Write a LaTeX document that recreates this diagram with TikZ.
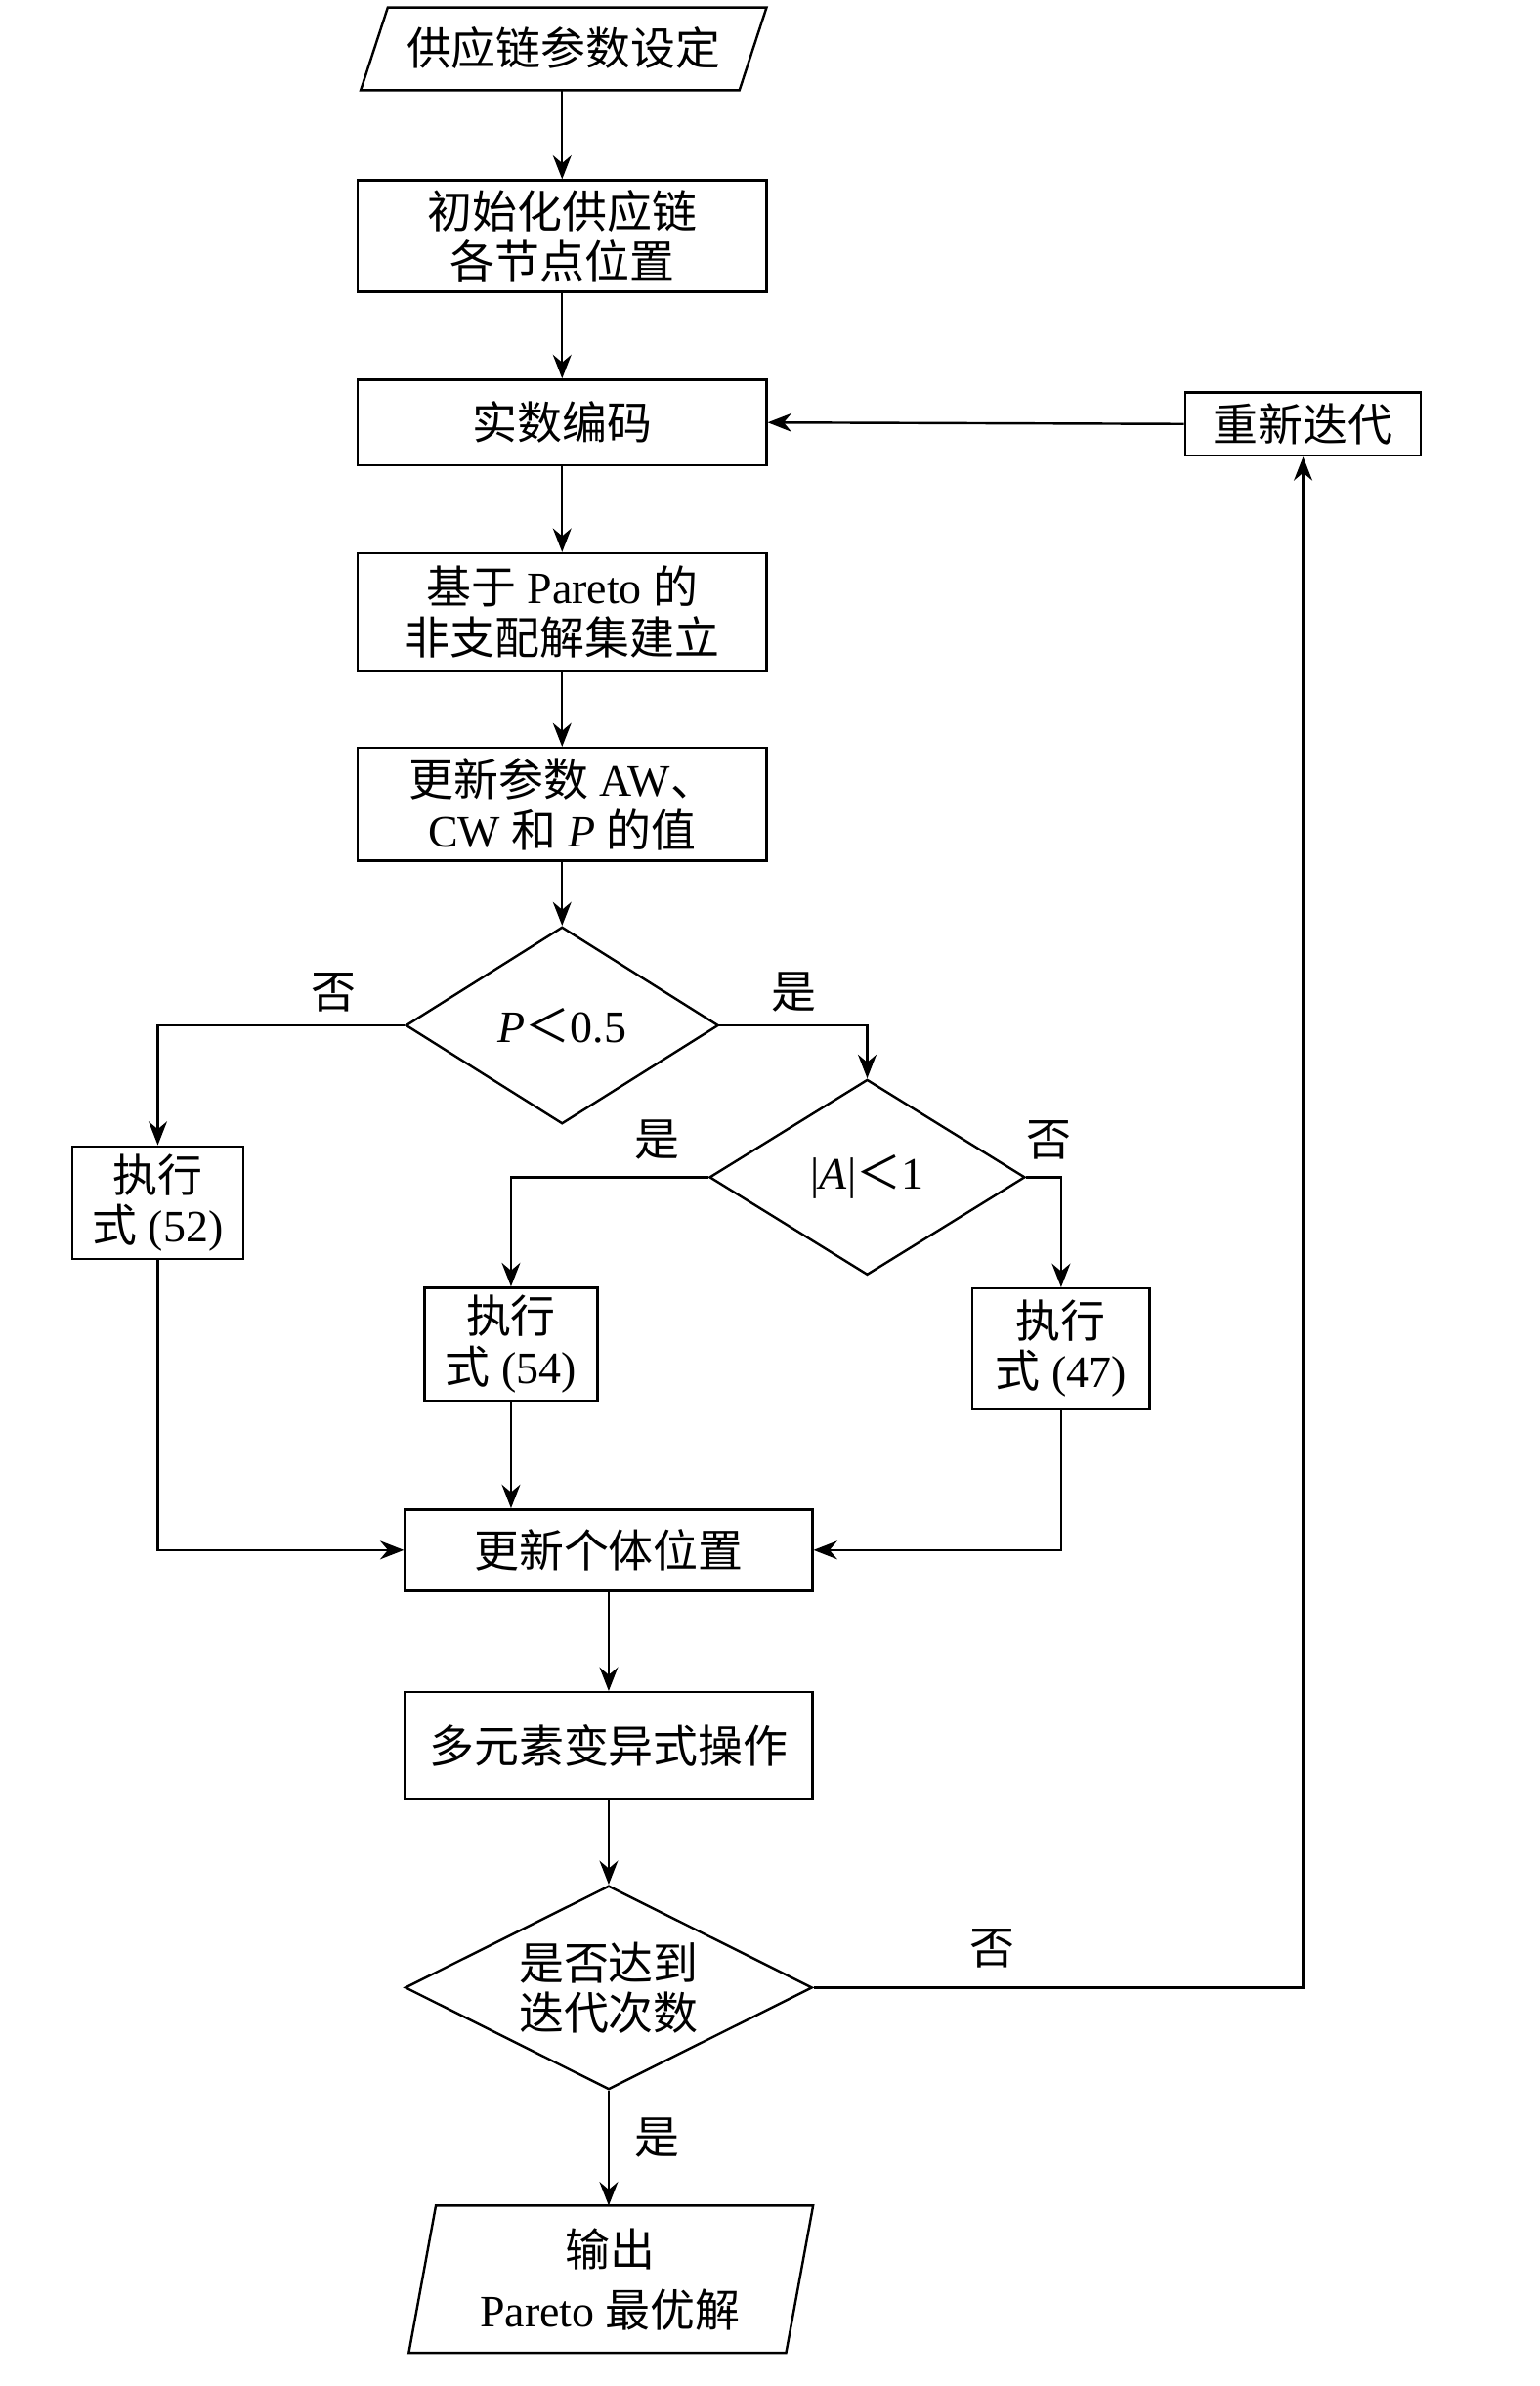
\documentclass[tikz,border=0pt]{standalone}
\usepackage{fontspec}
\setmainfont{Liberation Serif}
\newfontfamily\cjk{Noto Sans CJK SC}
\usetikzlibrary{arrows.meta,shapes.geometric}
\tikzset{
 every node/.style={font=\fontsize{17}{21}\selectfont, align=center},
 boxn/.style={draw, line width=0.9pt, minimum height=#1, inner sep=2pt},
 boxn/.default=1.5cm,
 dia/.style={draw, line width=0.9pt, diamond, aspect=1.6, inner sep=0pt},
 lbl/.style={font=\fontsize{17}{21}\selectfont\cjk},
 ar/.style={line width=0.9pt, -{Stealth[length=9pt,width=7pt]}},
 ln/.style={line width=0.9pt}
}
\begin{document}
\begin{tikzpicture}[x=0.02cm,y=-0.02cm]
\useasboundingbox (0,0) rectangle (1024,1587);
% top parallelogram
\draw[ln] (258,5) -- (510,5) -- (492,60) -- (240,60) -- cycle;
\node (p1) at (375,32) {\cjk 供应链参数设定};
\node[boxn, minimum width=5.44cm, minimum height=1.48cm] (b2) at (374,157) {\cjk 初始化供应链\\[-2pt]\cjk 各节点位置};
\node[boxn, minimum width=5.44cm, minimum height=1.14cm] (b3) at (374,281) {\cjk 实数编码};
\node[boxn, minimum width=5.44cm, minimum height=1.56cm] (b4) at (374,407) {{\cjk 基于} Pareto {\cjk 的}\\[-2pt]\cjk 非支配解集建立};
\node[boxn, minimum width=5.44cm, minimum height=1.5cm] (b5) at (374,535) {{\cjk 更新参数} AW{\cjk 、}\\[-2pt]CW {\cjk 和} \textit{P} {\cjk 的值}};
\node[dia, minimum width=4.16cm, minimum height=2.62cm] (d1) at (374,682) {\textit{P}{\cjk ＜}0.5};
\node[boxn, minimum width=2.28cm, minimum height=1.5cm] (b52) at (105,800) {\cjk 执行\\[-2pt]{\cjk 式} (52)};
\node[dia, minimum width=4.2cm, minimum height=2.6cm] (d2) at (577,783) {|\textit{A}|{\cjk ＜}1};
\node[boxn, minimum width=2.3cm, minimum height=1.5cm] (b54) at (340,894) {\cjk 执行\\[-2pt]{\cjk 式} (54)};
\node[boxn, minimum width=2.36cm, minimum height=1.6cm] (b47) at (706,897) {\cjk 执行\\[-2pt]{\cjk 式} (47)};
\node[boxn, minimum width=5.42cm, minimum height=1.08cm] (u) at (405,1031) {\cjk 更新个体位置};
\node[boxn, minimum width=5.42cm, minimum height=1.42cm] (m) at (405,1161) {\cjk 多元素变异式操作};
\node[dia, minimum width=5.42cm, minimum height=2.6cm] (d3) at (405,1322) {\cjk 是否达到\\[-2pt]\cjk 迭代次数};
\draw[ln] (290,1467) -- (541,1467) -- (523,1565) -- (272,1565) -- cycle;
\node (out) at (406,1516) {\cjk 输出\\[2pt]Pareto {\cjk 最优解}};
\node[boxn, minimum width=3.14cm, minimum height=0.84cm] (r) at (867,282) {\cjk 重新迭代};
% connectors
\draw[ar] (374,60) -- (b2.north);
\draw[ar] (b2) -- (b3);
\draw[ar] (b3) -- (b4);
\draw[ar] (b4) -- (b5);
\draw[ar] (b5) -- (d1);
\draw[ar] (d1.west) -| (b52.north);
\draw[ar] (d1.east) -| (d2.north);
\draw[ar] (d2.west) -| (b54.north);
\draw[ar] (d2.east) -| (b47.north);
\draw[ar] (b52.south) |- (u.west);
\draw[ar] (b54.south) -- (b54.south |- u.north);
\draw[ar] (b47.south) |- (u.east);
\draw[ar] (u) -- (m);
\draw[ar] (m) -- (d3);
\draw[ar] (d3.south) -- (405,1467);
\draw[ar] (d3.east) -| (r.south);
\draw[ar] (r.west) -- (b3.east);
% labels
\node[lbl] at (222,660) {否};
\node[lbl] at (528,660) {是};
\node[lbl] at (437,758) {是};
\node[lbl] at (698,758) {否};
\node[lbl] at (660,1296) {否};
\node[lbl] at (437,1422) {是};
\end{tikzpicture}
\end{document}
